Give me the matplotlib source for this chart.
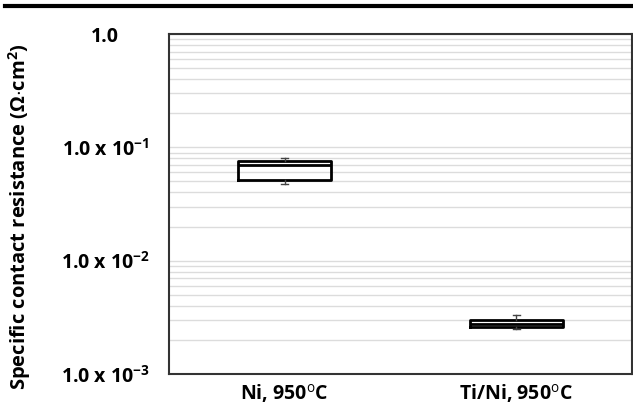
import matplotlib
matplotlib.use("Agg")
import matplotlib.pyplot as plt
from matplotlib.lines import Line2D
from matplotlib.ticker import FixedLocator, LogLocator, NullFormatter

plt.rcParams['font.family'] = ['Open Sans', 'DejaVu Sans']
plt.rcParams['mathtext.fontset'] = 'custom'
plt.rcParams['mathtext.rm'] = 'Open Sans'
plt.rcParams['mathtext.bf'] = 'Open Sans:bold'
plt.rcParams['mathtext.it'] = 'Open Sans:bold'
plt.rcParams['mathtext.default'] = 'bf'

# data
labels = ["Ni, 950$^{\\mathrm{o}}$C", "Ti/Ni, 950$^{\\mathrm{o}}$C"]
whislo = [0.047, 0.00251]
q1 = [0.051, 0.0026]
med = [0.070, 0.00278]
q3 = [0.0755, 0.0030]
whishi = [0.080, 0.00333]

ytick_vals = [1e-3, 1e-2, 1e-1, 1.0]
ytick_labels = ["1.0 x 10$^{-3}$", "1.0 x 10$^{-2}$", "1.0 x 10$^{-1}$", "1.0"]

stats = []
for i in range(len(labels)):
    stats.append(dict(med=med[i], q1=q1[i], q3=q3[i],
                      whislo=whislo[i], whishi=whishi[i], label=labels[i]))

fig = plt.figure(figsize=(6.33, 4.15), dpi=100)
ax = fig.add_axes([169/633, 1-374/415, 463/633, 340/415])

ax.set_yscale("log")
ax.set_ylim(1e-3, 1.0)
ax.set_xlim(0.5, 2.5)

ax.yaxis.set_major_locator(FixedLocator(ytick_vals))
ax.yaxis.set_minor_locator(LogLocator(base=10, subs=range(2, 10)))
ax.yaxis.set_minor_formatter(NullFormatter())
ax.grid(True, which="both", axis="y", color="#dcdcdc", lw=1.0, zorder=0)
ax.set_axisbelow(True)

ax.bxp(stats, positions=[1, 2], widths=0.4, capwidths=0.03, showfliers=False,
       patch_artist=False,
       boxprops=dict(color="black", lw=2.0),
       medianprops=dict(color="black", lw=2.0),
       whiskerprops=dict(color="#444444", lw=1.0),
       capprops=dict(color="#444444", lw=1.0))

ax.set_yticks(ytick_vals)
ax.set_yticklabels(ytick_labels, fontsize=14, fontweight="bold", ha="center")
ax.tick_params(axis="y", which="both", length=0, pad=46)
ax.tick_params(axis="x", length=0, pad=6, labelsize=14)
for t in ax.get_xticklabels():
    t.set_fontweight("bold")

for s in ax.spines.values():
    s.set_color("#333333")
    s.set_linewidth(1.5)

fig.text(20/633, 1-217/415, "Specific contact resistance ($\\Omega$$\\cdot$cm$^{2}$)",
         rotation=90, ha="center", va="center", fontsize=14.5, fontweight="bold")

fig.add_artist(Line2D([5/633, 1.0], [1-6/415, 1-6/415], color="black", lw=3))

fig.savefig("out.png", dpi=100)
